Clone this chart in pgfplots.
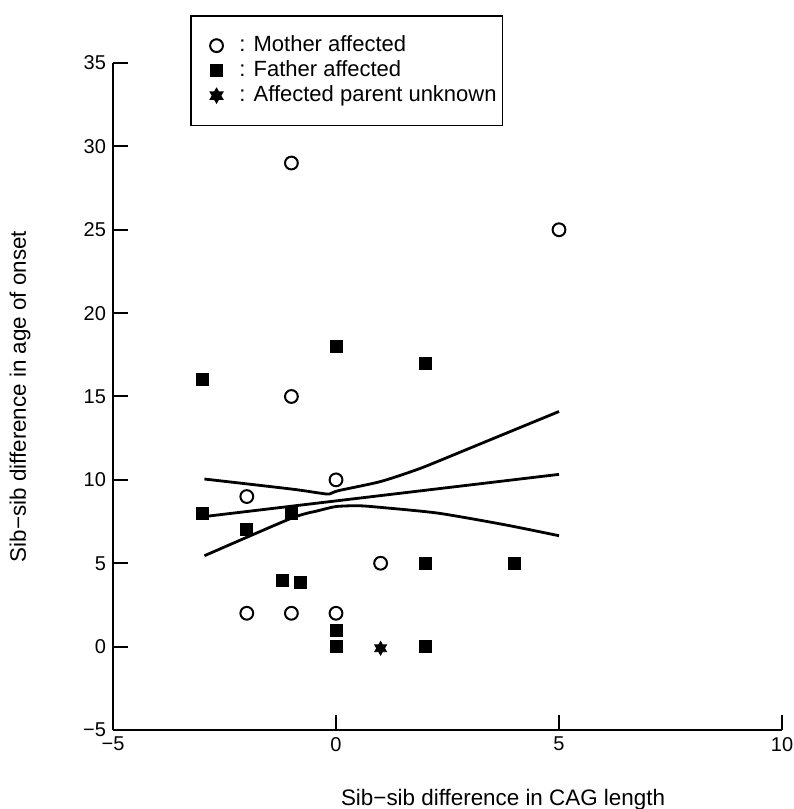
\documentclass[border=0pt]{standalone}
\usepackage{fontspec}
\setmainfont{Liberation Sans}
\usepackage{pgfplots}
\pgfplotsset{compat=1.18}

% six-pointed star for the "unknown" group
\pgfdeclareplotmark{hexstar}{%
  \pgfpathmoveto{\pgfpointpolar{90}{\pgfplotmarksize}}%
  \pgfpathlineto{\pgfpointpolar{210}{\pgfplotmarksize}}%
  \pgfpathlineto{\pgfpointpolar{330}{\pgfplotmarksize}}%
  \pgfpathclose
  \pgfpathmoveto{\pgfpointpolar{270}{\pgfplotmarksize}}%
  \pgfpathlineto{\pgfpointpolar{30}{\pgfplotmarksize}}%
  \pgfpathlineto{\pgfpointpolar{150}{\pgfplotmarksize}}%
  \pgfpathclose
  \pgfusepathqfillstroke}

\begin{document}
\begin{tikzpicture}
\begin{axis}[
    scale only axis,
    width=334.5pt, height=333.5pt,
    xmin=-5, xmax=10, ymin=-5, ymax=35,
    axis lines=left,
    axis line style={-, line width=1pt},
    tick align=inside,
    major tick length=7.5pt,
    tick style={line width=1pt, black},
    xtick={-5,0,5,10}, xticklabels={−5,0,5,10},
    ytick={-5,0,5,10,15,20,25,30,35},
    yticklabels={−5,0,5,10,15,20,25,30,35},
    ticklabel style={font=\fontsize{10}{12}\selectfont},
    xlabel={Sib−sib difference in CAG length},
    ylabel={Sib−sib difference in age of onset},
    label style={font=\fontsize{11.2}{13}\selectfont},
    xlabel style={at={(axis description cs:0.583,-0.105)}, anchor=center},
    ylabel style={at={(axis description cs:-0.139,0.5)}, anchor=center},
    legend style={at={(axis description cs:0.115,1.072)}, anchor=north west,
        draw=black, line width=0.8pt, font=\fontsize{11}{13}\selectfont,
        inner xsep=1pt, inner ysep=8.7pt, row sep=0pt,
        nodes={inner ysep=1pt, text height=8pt, text depth=2.5pt}},
    legend cell align=left,
    legend image code/.code={\path (-11.5pt,0pt) (9pt,0pt);
        \draw[#1] plot coordinates {(0pt,0pt)};},
    clip=false,
]

% mother affected
\addplot[only marks, mark=o, mark size=3.2pt, mark options={line width=1pt}] coordinates {
    (-1,29) (5,25) (-1,15) (0,10) (-2,9) (1,5) (-2,2) (-1,2) (0,2)
};
\addlegendentry{: Mother affected}

% father affected
\addplot[only marks, mark=square*, mark size=3pt] coordinates {
    (-3,16) (0,18) (2,17) (-3,8) (-2,7) (-1,8) (-1.2,4) (-0.8,3.85)
    (2,5) (4,5) (0,1) (0,0) (2,0)
};
\addlegendentry{: Father affected}

% parent unknown
\addplot[only marks, mark=hexstar, mark size=3.4pt] coordinates {
    (1,-0.1)
};
\addlegendentry{: Affected parent unknown}

% regression line and confidence band
\addplot[line width=1.4pt, forget plot] coordinates {
    (-2.95,7.8) (5,10.33)
};
\addplot[smooth, tension=0.4, line width=1.4pt, forget plot] coordinates {
    (-2.95,10.05) (-1,9.45) (-0.35,9.2) (-0.15,9.15) (0.05,9.35)
    (1,9.9) (1.9,10.7) (3,11.9) (5,14.1)
};
\addplot[smooth, tension=0.4, line width=1.4pt, forget plot] coordinates {
    (-2.95,5.45) (-1,7.7) (-0.4,8.15) (0,8.4) (0.5,8.45) (1,8.35)
    (2.3,8.0) (3.8,7.3) (5,6.65)
};

\end{axis}
\pgfresetboundingbox
\path[use as bounding box]
    ([xshift=-56.5pt,yshift=-39.5pt]current axis.south west)
    rectangle ([xshift=5.5pt,yshift=31.5pt]current axis.north east);
\end{tikzpicture}
\end{document}
